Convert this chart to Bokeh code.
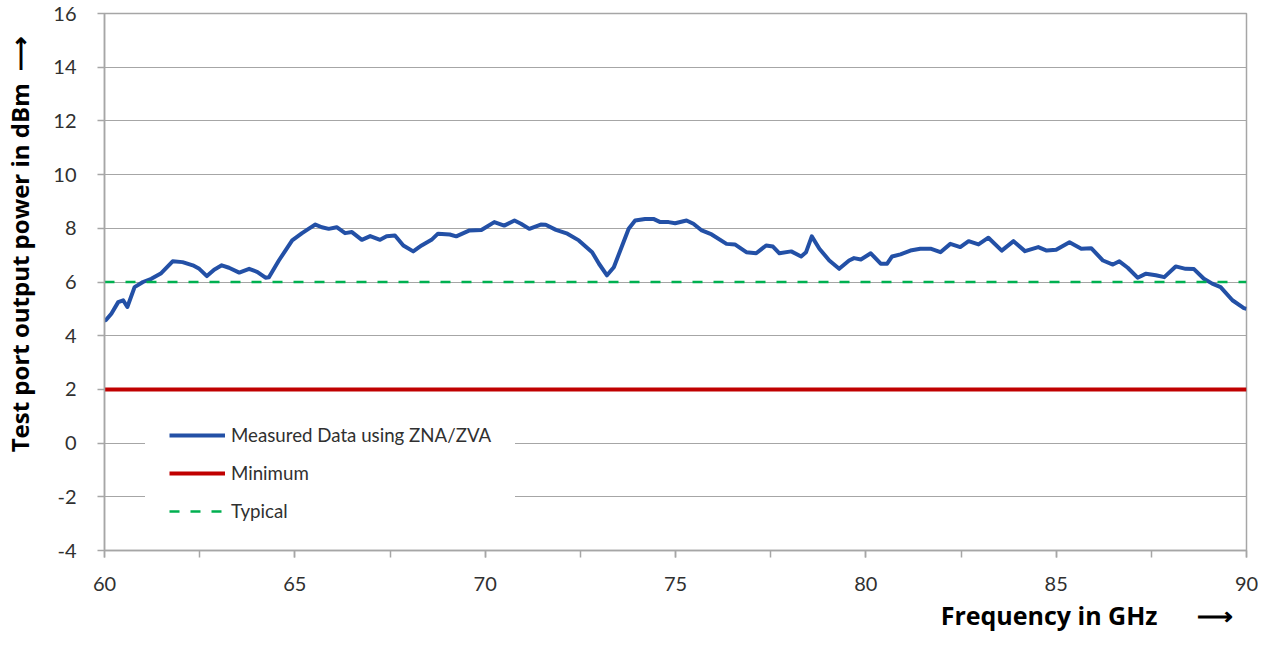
from bokeh.plotting import figure
from bokeh.models import Range1d, FixedTicker, Legend, LegendItem, Title
from bokeh.embed import file_html
from bokeh.resources import INLINE

# ---- data ----
freq_ghz = [60.0, 60.05, 60.18, 60.36, 60.49, 60.6, 60.79, 61.01, 61.23, 61.49, 61.79, 62.05,
            62.32, 62.49, 62.69, 62.88, 63.08, 63.27, 63.54, 63.8, 64.02, 64.23, 64.32, 64.58,
            64.93, 65.19, 65.36, 65.54, 65.71, 65.89, 66.1, 66.32, 66.5, 66.76, 66.98, 67.24,
            67.41, 67.63, 67.85, 68.11, 68.33, 68.59, 68.76, 69.07, 69.24, 69.59, 69.9, 70.02,
            70.24, 70.5, 70.77, 70.94, 71.16, 71.46, 71.59, 71.86, 72.16, 72.46, 72.81, 72.99,
            73.2, 73.38, 73.6, 73.77, 73.94, 74.2, 74.42, 74.6, 74.82, 74.99, 75.29, 75.47,
            75.69, 75.95, 76.34, 76.56, 76.86, 77.12, 77.38, 77.56, 77.73, 78.04, 78.3, 78.43,
            78.58, 78.78, 79.04, 79.3, 79.56, 79.69, 79.87, 80.13, 80.39, 80.56, 80.69, 80.91,
            81.17, 81.43, 81.7, 81.96, 82.22, 82.48, 82.7, 82.96, 83.22, 83.57, 83.88, 84.18,
            84.53, 84.75, 85.0, 85.35, 85.66, 85.92, 86.23, 86.49, 86.66, 86.88, 87.14, 87.36,
            87.62, 87.84, 88.14, 88.4, 88.62, 88.88, 89.1, 89.32, 89.63, 89.93, 90.0]
measured_dbm = [4.55, 4.6, 4.82, 5.25, 5.32, 5.07, 5.81, 6.0, 6.12, 6.33, 6.77, 6.74,
                6.62, 6.49, 6.22, 6.46, 6.62, 6.53, 6.35, 6.49, 6.37, 6.16, 6.18, 6.80,
                7.55, 7.82, 7.98, 8.14, 8.04, 7.98, 8.04, 7.82, 7.86, 7.57, 7.71, 7.57,
                7.70, 7.73, 7.36, 7.14, 7.36, 7.57, 7.80, 7.77, 7.70, 7.92, 7.94, 8.04,
                8.23, 8.10, 8.29, 8.17, 7.98, 8.14, 8.13, 7.94, 7.80, 7.55, 7.11, 6.68,
                6.25, 6.55, 7.36, 7.98, 8.29, 8.35, 8.35, 8.23, 8.23, 8.19, 8.29, 8.17,
                7.92, 7.77, 7.42, 7.40, 7.11, 7.07, 7.36, 7.32, 7.07, 7.14, 6.95, 7.11,
                7.70, 7.24, 6.80, 6.49, 6.80, 6.89, 6.84, 7.07, 6.68, 6.68, 6.95, 7.03,
                7.17, 7.24, 7.24, 7.11, 7.42, 7.30, 7.52, 7.40, 7.65, 7.17, 7.52, 7.15,
                7.30, 7.17, 7.20, 7.48, 7.24, 7.26, 6.80, 6.65, 6.77, 6.53, 6.16, 6.31,
                6.25, 6.18, 6.58, 6.49, 6.48, 6.12, 5.94, 5.81, 5.32, 5.03, 5.0]
limit_freq = [60, 90]
minimum_dbm = [2, 2]
typical_dbm = [6, 6]

y_ticks = [-4, -2, 0, 2, 4, 6, 8, 10, 12, 14, 16]
y_tick_labels = {-4: "-4", -2: "-2"}
x_major_ticks = [60, 65, 70, 75, 80, 85, 90]
x_minor_ticks = [60, 62.5, 65, 67.5, 70, 72.5, 75, 77.5, 80, 82.5, 85, 87.5, 90]

series_names = ["Measured Data using ZNA/ZVA", "Minimum", "Typical"]
y_title = "Test port output power in dBm" + "\u00a0" * 2 + "\u27f6"
x_title = "Frequency in GHz" + "\u00a0" * 6 + "\u27f6"

FONT = "Lato"
TFONT = "Open Sans"
GRAY = "#a6a6a6"
TXT = "#303030"

p = figure(width=1258, height=640, output_backend="svg", toolbar_location=None,
           x_range=Range1d(60, 90), y_range=Range1d(-4, 16),
           min_border_left=104, min_border_right=12, min_border_top=13, min_border_bottom=90,
           background_fill_color="white", border_fill_color="white")
p.outline_line_color = GRAY
p.outline_line_width = 1.5

# grid
p.xgrid.grid_line_color = None
p.ygrid.grid_line_color = GRAY
p.ygrid.grid_line_width = 1.2
p.ygrid.ticker = FixedTicker(ticks=y_ticks)

# axes
p.yaxis.ticker = FixedTicker(ticks=y_ticks)
p.yaxis.major_label_overrides = y_tick_labels
p.xaxis.ticker = FixedTicker(ticks=x_major_ticks, minor_ticks=x_minor_ticks)
for ax in (p.xaxis[0], p.yaxis[0]):
    ax.axis_line_color = GRAY
    ax.axis_line_width = 1.5
    ax.major_tick_line_color = GRAY
    ax.major_tick_line_width = 1.5
    ax.major_tick_in = 0
    ax.major_tick_out = 7
    ax.minor_tick_in = 0
    ax.minor_tick_out = 7
    ax.minor_tick_line_width = 1.5
    ax.major_label_text_font = FONT
    ax.major_label_text_font_size = "20px"
    ax.major_label_text_color = TXT
p.yaxis.minor_tick_line_color = None
p.xaxis.minor_tick_line_color = GRAY
p.yaxis.major_label_standoff = 21
p.xaxis.major_label_standoff = 19

# y title: centred axis label, shifted towards the top with leading no-break spaces
p.yaxis.axis_label = "\u00a0" * 12 + y_title
p.yaxis.axis_label_standoff = 14
p.yaxis.axis_label_text_font = TFONT
p.yaxis.axis_label_text_font_style = "bold"
p.yaxis.axis_label_text_font_size = "24px"
p.yaxis.axis_label_text_color = "black"

# x title: right-aligned title below the axis
p.add_layout(Title(text=x_title, align="right", standoff=4, offset=14, text_font=TFONT,
                   text_font_style="bold", text_font_size="25px", text_color="black"),
             "below")

# series
r_meas = p.line(freq_ghz, measured_dbm, line_color="#2350A6", line_width=4, line_join="round")
r_min = p.line(limit_freq, minimum_dbm, line_color="#C00000", line_width=4)
r_typ = p.line(limit_freq, typical_dbm, line_color="#00B050", line_width=2.5, line_dash="10 11")

legend = Legend(items=[LegendItem(label=series_names[0], renderers=[r_meas]),
                       LegendItem(label=series_names[1], renderers=[r_min]),
                       LegendItem(label=series_names[2], renderers=[r_typ])],
                location=(41, 4), orientation="vertical",
                padding=0, spacing=16, glyph_width=56, glyph_height=22, label_height=22,
                label_standoff=6, label_text_font=FONT, label_text_font_size="18.7px",
                label_text_color=TXT, border_line_color="white", border_line_width=24,
                background_fill_color="white", background_fill_alpha=1.0)
p.add_layout(legend, "center")

open("out.html", "w").write(file_html(p, INLINE))
